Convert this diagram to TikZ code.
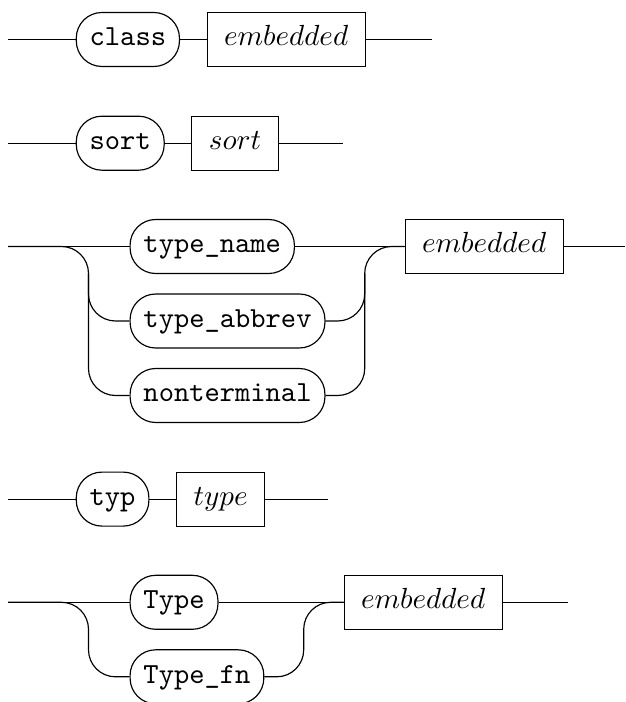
\documentclass[tikz,border=0pt]{standalone}
\usetikzlibrary{calc}
\begin{document}
\begin{tikzpicture}[x=0.3436pt,y=-0.3436pt,
  rail/.style={line width=0.4pt},
  railbend/.style={line width=0.4pt, rounded corners=9.28pt},
  term/.style={draw, rounded corners=8.8pt, font=\ttfamily, minimum height=18.55pt,
    inner xsep=4.6pt, inner ysep=0pt, text height=7pt, text depth=2.7pt, anchor=west},
  nonterm/.style={draw, minimum height=18.55pt,
    inner xsep=5.85pt, inner ysep=0pt, text height=7pt, text depth=2.7pt, anchor=west}]
\useasboundingbox (0,0) rectangle (625,702);

% Row 1
\coordinate (a1) at (8,39.5);
\node[term] (class) at (75.7,39.5) {class};
\node[nonterm] (emb1) at (206.5,39.5) {$embedded$};
\coordinate (z1) at (431.6,39.5);
\draw[rail] (a1) -- (class.west) (class.east) -- (emb1.west) (emb1.east) -- (z1);

% Row 2
\coordinate (a2) at (8,143.2);
\node[term] (sortt) at (75.7,143.2) {sort};
\node[nonterm] (sortn) at (191.3,143.2) {$sort$};
\coordinate (z2) at (342.8,143.2);
\draw[rail] (a2) -- (sortt.west) (sortt.east) -- (sortn.west) (sortn.east) -- (z2);

% Row 3
\coordinate (a3) at (8,246.5);
\node[term] (tname) at (129.5,246.5) {type\_name};
\node[term] (tabbr) at (129.5,321) {type\_abbrev};
\node[term] (nont) at (129.5,395.5) {nonterminal};
\coordinate (lv3) at (88.5,246.5);
\coordinate (lv3b) at (88.5,273.5);
\coordinate (rv3) at (364.7,246.5);
\coordinate (rv3b) at (364.7,273.5);
\node[nonterm] (emb3) at (404.5,246.5) {$embedded$};
\coordinate (z3) at (625,246.5);
\draw[rail] (a3) -- (tname.west) (tname.east) -- (emb3.west) (emb3.east) -- (z3);
\draw[railbend] (a3) -- (lv3) -- (lv3 |- nont.west) -- (nont.west);
\draw[railbend] (lv3b) -- (lv3 |- tabbr.west) -- (tabbr.west);
\draw[railbend] (nont.east) -- (rv3 |- nont.east) -- (rv3) -- (emb3.west);
\draw[railbend] (tabbr.east) -- (rv3 |- tabbr.east) -- (rv3b);

% Row 4
\coordinate (a4) at (8,499.1);
\node[term] (typ) at (75.7,499.1) {typ};
\node[nonterm] (type) at (176,499.1) {$type$};
\coordinate (z4) at (328,499.1);
\draw[rail] (a4) -- (typ.west) (typ.east) -- (type.west) (type.east) -- (z4);

% Row 5
\coordinate (a5) at (8,602.3);
\node[term] (Type) at (129.5,602.3) {Type};
\node[term] (Typefn) at (129.5,676.8) {Type\_fn};
\coordinate (lv5) at (88.5,602.3);
\coordinate (rv5) at (303.7,602.3);
\node[nonterm] (emb5) at (343.5,602.3) {$embedded$};
\coordinate (z5) at (568,602.3);
\draw[rail] (a5) -- (Type.west) (Type.east) -- (emb5.west) (emb5.east) -- (z5);
\draw[railbend] (a5) -- (lv5) -- (lv5 |- Typefn.west) -- (Typefn.west);
\draw[railbend] (Typefn.east) -- (rv5 |- Typefn.east) -- (rv5) -- (emb5.west);
\end{tikzpicture}
\end{document}
